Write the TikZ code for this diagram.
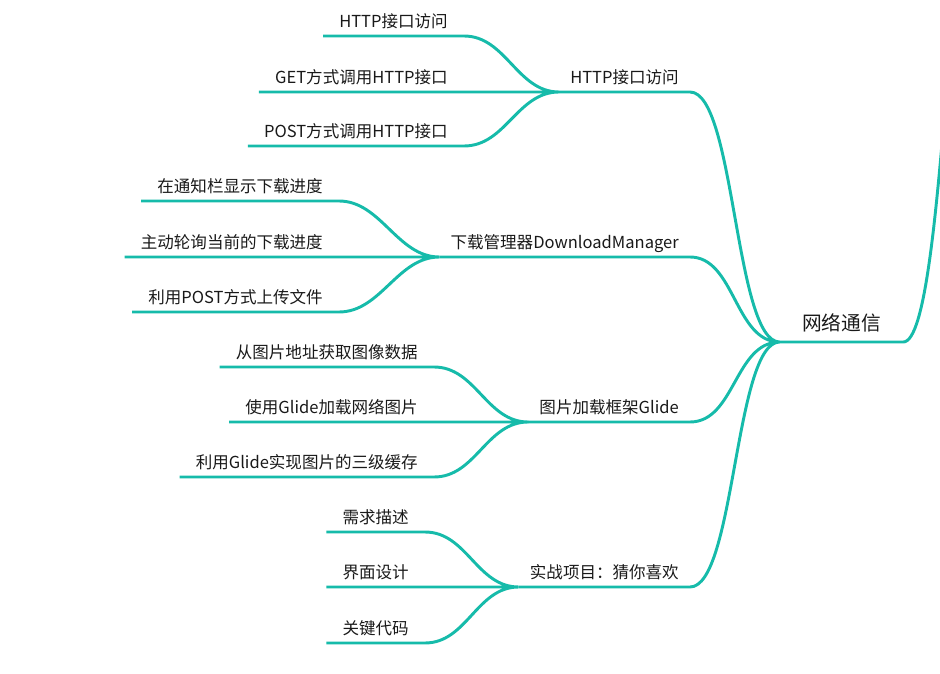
\documentclass[tikz,border=0pt]{standalone}
\usepackage{fontspec}
\setmainfont{Noto Sans CJK SC}
\definecolor{mapline}{RGB}{22,187,170}
\definecolor{maptext}{RGB}{25,25,25}

\begin{document}
\begin{tikzpicture}[x=0.75pt,y=-0.75pt,
	link/.style={draw=mapline,line width=2.2pt},
	leaf/.style={anchor=south east,inner xsep=12pt,inner ysep=6.2pt,text depth=0pt,text=maptext,font=\fontsize{12.4}{14}\selectfont},
	topic/.style={leaf,inner xsep=8.25pt},
	hub/.style={anchor=south,minimum width=92.25pt,inner ysep=8.6pt,text depth=0pt,text=maptext,font=\fontsize{14.8}{17}\selectfont}]
			\useasboundingbox (0,0) rectangle (940,674);
			\clip (0,0) rectangle (940,674);
			\coordinate (up) at (993,-200);
			\node[hub] (net) at (841.5,342) {网络通信};
			\node[topic] (http) at (690,92) {HTTP接口访问};
			\node[topic] (dm) at (690,257) {下载管理器DownloadManager};
			\node[topic] (glide) at (690,422) {图片加载框架Glide};
			\node[topic] (proj) at (690,587) {实战项目：猜你喜欢};
			\node[leaf] (http-1) at (464,36) {HTTP接口访问};
			\node[leaf] (http-2) at (464,92) {GET方式调用HTTP接口};
			\node[leaf] (http-3) at (464,146) {POST方式调用HTTP接口};
			\node[leaf] (dm-1) at (339,201) {在通知栏显示下载进度};
			\node[leaf] (dm-2) at (339,257) {主动轮询当前的下载进度};
			\node[leaf] (dm-3) at (339,312) {利用POST方式上传文件};
			\node[leaf] (glide-1) at (434,367) {从图片地址获取图像数据};
			\node[leaf] (glide-2) at (434,422) {使用Glide加载网络图片};
			\node[leaf] (glide-3) at (434,477) {利用Glide实现图片的三级缓存};
			\node[leaf] (proj-1) at (425,532) {需求描述};
			\node[leaf] (proj-2) at (425,587) {界面设计};
			\node[leaf] (proj-3) at (425,643) {关键代码};
			\draw[link]
			(net.south west) -- (net.south east) .. controls +(45,0) and +(-45,0) .. (up)
			(http.south west) -- (http.south east) .. controls +(45,0) and +(-45,0) .. (net.south west)
			(dm.south west) -- (dm.south east) .. controls +(45,0) and +(-45,0) .. (net.south west)
			(glide.south west) -- (glide.south east) .. controls +(45,0) and +(-45,0) .. (net.south west)
			(proj.south west) -- (proj.south east) .. controls +(45,0) and +(-45,0) .. (net.south west);
			\draw[link]
			(http-1.south west) -- (http-1.south east) .. controls +(42,0) and +(-42,0) .. (http.south west)
			(http-2.south west) -- (http-2.south east) .. controls +(42,0) and +(-42,0) .. (http.south west)
			(http-3.south west) -- (http-3.south east) .. controls +(42,0) and +(-42,0) .. (http.south west)
			(dm-1.south west) -- (dm-1.south east) .. controls +(42,0) and +(-42,0) .. (dm.south west)
			(dm-2.south west) -- (dm-2.south east) .. controls +(42,0) and +(-42,0) .. (dm.south west)
			(dm-3.south west) -- (dm-3.south east) .. controls +(42,0) and +(-42,0) .. (dm.south west)
			(glide-1.south west) -- (glide-1.south east) .. controls +(42,0) and +(-42,0) .. (glide.south west)
			(glide-2.south west) -- (glide-2.south east) .. controls +(42,0) and +(-42,0) .. (glide.south west)
			(glide-3.south west) -- (glide-3.south east) .. controls +(42,0) and +(-42,0) .. (glide.south west)
			(proj-1.south west) -- (proj-1.south east) .. controls +(42,0) and +(-42,0) .. (proj.south west)
			(proj-2.south west) -- (proj-2.south east) .. controls +(42,0) and +(-42,0) .. (proj.south west)
			(proj-3.south west) -- (proj-3.south east) .. controls +(42,0) and +(-42,0) .. (proj.south west);
		\end{tikzpicture}
\end{document}
